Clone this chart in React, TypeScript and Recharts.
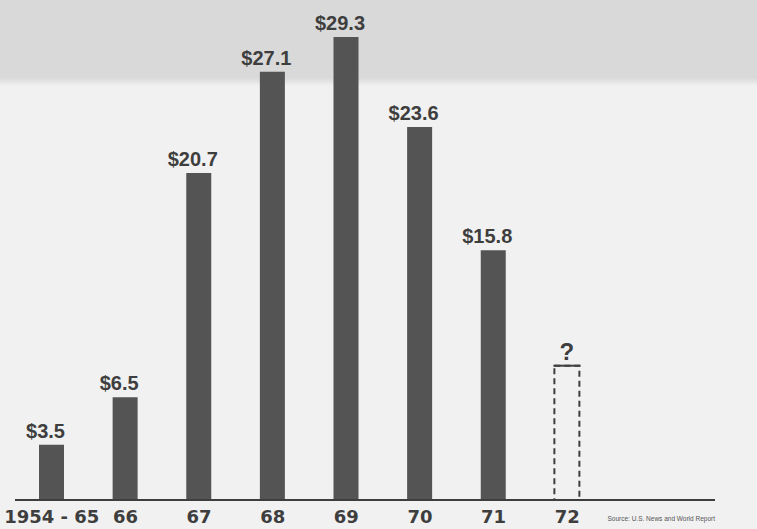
import React from "react";
import { Bar, BarChart, XAxis, YAxis, LabelList, Label, Rectangle } from "recharts";

// Spending by year (billions of dollars)
const years = ["1954 - 65", "66", "67", "68", "69", "70", "71", "72"];
const spending = [3.5, 6.5, 20.7, 27.1, 29.3, 23.6, 15.8, null];
// 1972 is unknown: drawn as an empty dashed bar of about this height
const outlook = [null, null, null, null, null, null, null, 8.5];

const data = years.map((year, i) => ({
  year,
  spending: spending[i],
  outlook: outlook[i],
}));

const ink = "#3e3e3e";
const font = "'Liberation Sans', Arial, sans-serif";
const tickFont = "'DejaVu Sans', sans-serif";

const DashedBar = (props: any) => {
  const { x, y, width, height } = props;
  if (!height) return null;
  return (
    <g>
      <Rectangle x={x} y={y} width={width} height={height} fill="none" stroke={ink} strokeWidth={2} strokeDasharray="6 4" />
      <line x1={x - 1} x2={x + width + 1} y1={y} y2={y} stroke={ink} strokeWidth={2} />
    </g>
  );
};

const App = () => {
  return (
    <div
      style={{
        position: "fixed",
        left: 0,
        top: 0,
        width: 757,
        height: 529,
        background: "linear-gradient(to bottom, #d9d9d9 0px, #d9d9d9 78px, #f1f1f1 86px, #f1f1f1 100%)",
      }}
    >
      <BarChart
        width={757}
        height={529}
        data={data}
        margin={{ top: 26, right: 42, bottom: 0, left: 15 }}
        barSize={25}
      >
        <YAxis hide domain={[0, 30]} />
        <XAxis
          dataKey="year"
          height={29}
          padding={{ left: 0, right: 111 }}
          tickLine={false}
          tickSize={0}
          tickMargin={10}
          axisLine={{ stroke: ink, strokeWidth: 2 }}
          tick={{ fill: ink, fontSize: 18, fontWeight: 700, fontFamily: tickFont }}
          interval={0}
        >
          <Label
            content={({ viewBox }: any) => (
              <text
                x={viewBox.x + viewBox.width}
                y={viewBox.y + 21}
                textAnchor="end"
                fontSize={6.5}
                fontFamily={font}
                fill="#555"
              >
                Source: U.S. News and World Report
              </text>
            )}
          />
        </XAxis>
        <Bar dataKey="spending" stackId="a" fill="#545454" isAnimationActive={false}>
          <LabelList
            dataKey="spending"
            position="top"
            offset={7}
            formatter={(v: any) => (v == null ? "" : `$${v}`)}
            style={{ fill: ink, fontSize: 20, fontWeight: 700, fontFamily: font }}
            dx={-6}
          />
        </Bar>
        <Bar dataKey="outlook" stackId="a" shape={<DashedBar />} isAnimationActive={false}>
          <LabelList
            dataKey="outlook"
            position="top"
            offset={6}
            formatter={(v: any) => (v == null ? "" : "?")}
            style={{ fill: ink, fontSize: 24, fontWeight: 700, fontFamily: font }}
          />
        </Bar>
      </BarChart>
    </div>
  );
};

export default App;
